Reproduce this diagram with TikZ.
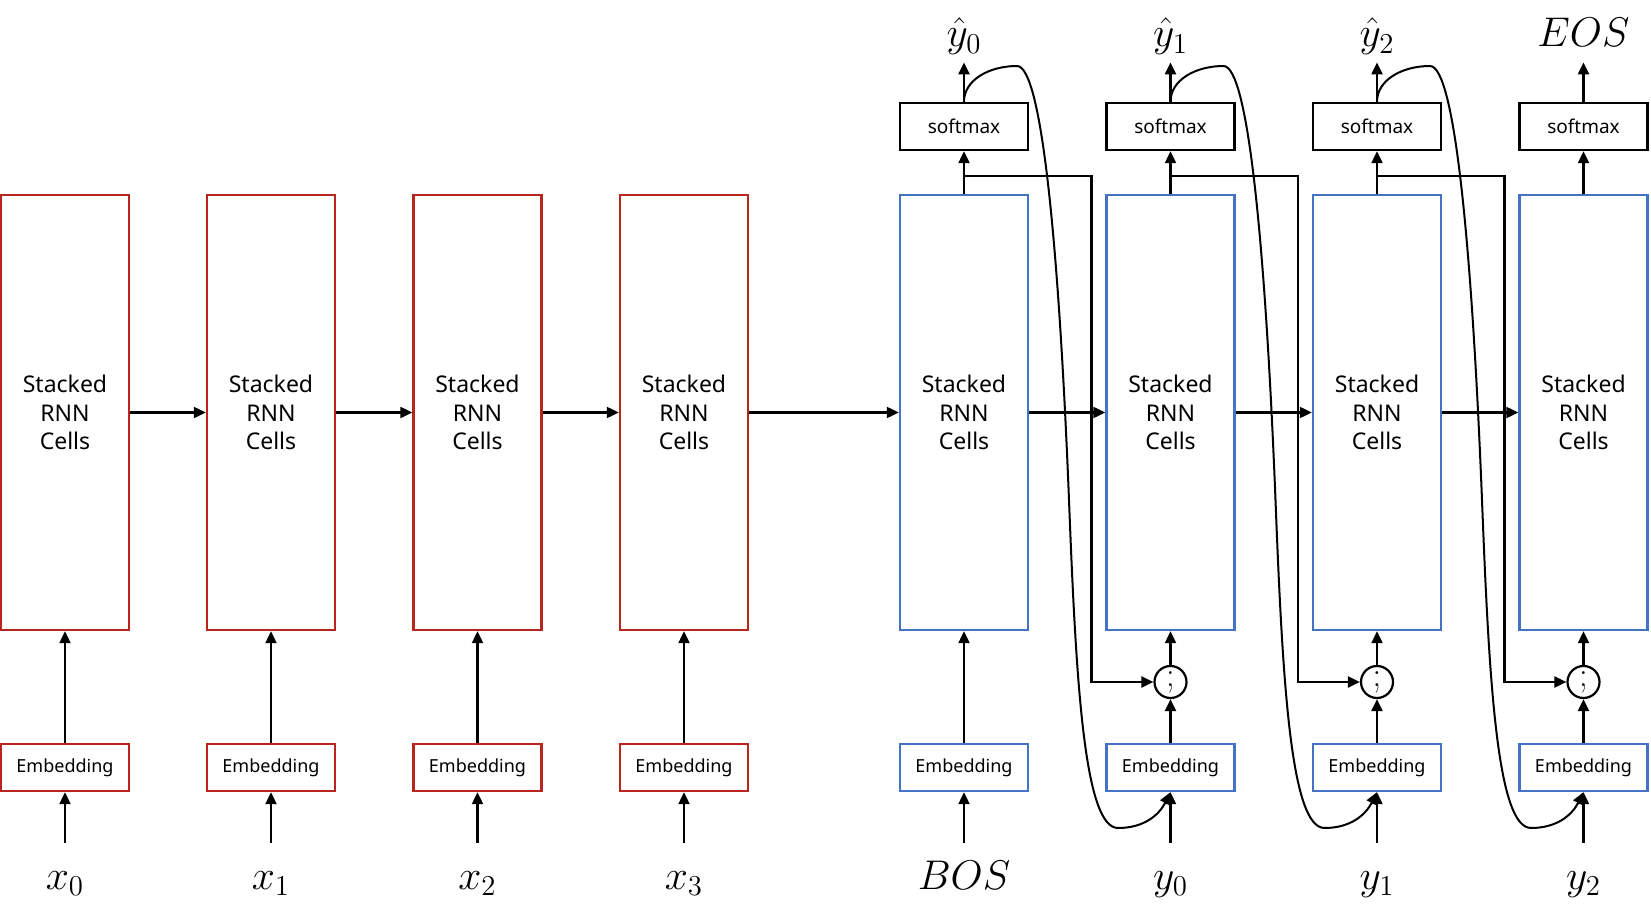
\documentclass[tikz,border=0pt]{standalone}
\usepackage[no-math]{fontspec}
\setmainfont{Noto Sans}
\usetikzlibrary{arrows.meta,calc}
\definecolor{encred}{RGB}{184,36,30}
\definecolor{decblue}{RGB}{68,114,196}
\tikzset{
  cell/.style={draw, line width=1.2pt, minimum width=64pt, minimum height=217.5pt, inner sep=0, align=center, font=\fontsize{11.5}{14.3}\selectfont},
  embed/.style={draw, line width=1.2pt, minimum width=64pt, minimum height=23.5pt, inner sep=0, font=\fontsize{9}{11}\selectfont},
  smax/.style={draw=black, line width=1.2pt, minimum width=64pt, minimum height=23.5pt, inner sep=0, font=\fontsize{9.5}{11}\selectfont},
  concat/.style={draw, circle, line width=1.1pt, minimum size=16pt, inner sep=0, font=\fontsize{18}{20}\selectfont},
  inlab/.style={anchor=base, inner sep=0, text height=23pt, font=\fontsize{20.5}{24}\selectfont},
  outlab/.style={anchor=base, inner sep=0, text depth=7.5pt, font=\fontsize{20.5}{24}\selectfont},
  arr/.style={line width=1.1pt, -{Triangle[length=6pt,width=5.5pt]}},
}
\begin{document}
\begin{tikzpicture}[x=0.5pt,y=-0.5pt]
\useasboundingbox (0,0) rectangle (1651,909);
% encoder
\node[cell,draw=encred] (er1) at (65,412.5) {Stacked\\RNN\\Cells};
\node[cell,draw=encred] (er2) at (271,412.5) {Stacked\\RNN\\Cells};
\node[cell,draw=encred] (er3) at (477.5,412.5) {Stacked\\RNN\\Cells};
\node[cell,draw=encred] (er4) at (684,412.5) {Stacked\\RNN\\Cells};
\node[embed,draw=encred] (ee1) at (65,767.5) {Embedding};
\node[embed,draw=encred] (ee2) at (271,767.5) {Embedding};
\node[embed,draw=encred] (ee3) at (477.5,767.5) {Embedding};
\node[embed,draw=encred] (ee4) at (684,767.5) {Embedding};
\node[inlab] (x0) at (65,889) {$x_0$};
\node[inlab] (x1) at (271,889) {$x_1$};
\node[inlab] (x2) at (477.5,889) {$x_2$};
\node[inlab] (x3) at (684,889) {$x_3$};
% decoder
\node[cell,draw=decblue] (dr1) at (964,412.5) {Stacked\\RNN\\Cells};
\node[cell,draw=decblue] (dr2) at (1170.5,412.5) {Stacked\\RNN\\Cells};
\node[cell,draw=decblue] (dr3) at (1377,412.5) {Stacked\\RNN\\Cells};
\node[cell,draw=decblue] (dr4) at (1583.5,412.5) {Stacked\\RNN\\Cells};
\node[embed,draw=decblue] (de1) at (964,767.5) {Embedding};
\node[embed,draw=decblue] (de2) at (1170.5,767.5) {Embedding};
\node[embed,draw=decblue] (de3) at (1377,767.5) {Embedding};
\node[embed,draw=decblue] (de4) at (1583.5,767.5) {Embedding};
\node[concat] (cc2) at (1170.5,682) {$;$};
\node[concat] (cc3) at (1377,682) {$;$};
\node[concat] (cc4) at (1583.5,682) {$;$};
\node[smax] (sm1) at (964,126.5) {softmax};
\node[smax] (sm2) at (1170.5,126.5) {softmax};
\node[smax] (sm3) at (1377,126.5) {softmax};
\node[smax] (sm4) at (1583.5,126.5) {softmax};
\node[inlab] (bos) at (964,889) {$BOS$};
\node[inlab] (y0) at (1170.5,889) {$y_0$};
\node[inlab] (y1) at (1377,889) {$y_1$};
\node[inlab] (y2) at (1583.5,889) {$y_2$};
\node[outlab] (yh0) at (964,47) {$\hat{y}_0$};
\node[outlab] (yh1) at (1170.5,47) {$\hat{y}_1$};
\node[outlab] (yh2) at (1377,47) {$\hat{y}_2$};
\node[outlab] (eos) at (1583.5,47) {$EOS$};
% inputs
\draw[arr] (x0) -- (ee1);
\draw[arr] (x1) -- (ee2);
\draw[arr] (x2) -- (ee3);
\draw[arr] (x3) -- (ee4);
\draw[arr] (ee1) -- (er1);
\draw[arr] (ee2) -- (er2);
\draw[arr] (ee3) -- (er3);
\draw[arr] (ee4) -- (er4);
\draw[arr] (bos) -- (de1);
\draw[arr] (y0) -- (de2);
\draw[arr] (y1) -- (de3);
\draw[arr] (y2) -- (de4);
\draw[arr] (de1) -- (dr1);
\draw[arr] (de2) -- (cc2);
\draw[arr] (de3) -- (cc3);
\draw[arr] (de4) -- (cc4);
\draw[arr] (cc2) -- (dr2);
\draw[arr] (cc3) -- (dr3);
\draw[arr] (cc4) -- (dr4);
% states
\draw[arr] (er1) -- (er2);
\draw[arr] (er2) -- (er3);
\draw[arr] (er3) -- (er4);
\draw[arr] (er4) -- (dr1);
\draw[arr] (dr1) -- (dr2);
\draw[arr] (dr2) -- (dr3);
\draw[arr] (dr3) -- (dr4);
% outputs
\draw[arr] (dr1) -- (sm1);
\draw[arr] (dr2) -- (sm2);
\draw[arr] (dr3) -- (sm3);
\draw[arr] (dr4) -- (sm4);
\draw[arr] (sm1) -- (yh0);
\draw[arr] (sm2) -- (yh1);
\draw[arr] (sm3) -- (yh2);
\draw[arr] (sm4) -- (eos);
% hidden output into the next concat
\draw[arr] ($(dr1.north)+(0,-18)$) -| ($(cc2)+(-79,0)$) -- (cc2);
\draw[arr] ($(dr2.north)+(0,-18)$) -| ($(cc3)+(-79,0)$) -- (cc3);
\draw[arr] ($(dr3.north)+(0,-18)$) -| ($(cc4)+(-79,0)$) -- (cc4);
% prediction fed back
\draw[arr,line width=1pt] (sm1.north) .. controls (964,80) and (989,66) .. (1017,66)
  .. controls (1042,66) and (1059,250) .. (1069,500)
  .. controls (1076,680) and (1084,828) .. (1118,828)
  .. controls (1144,828) and (1159,815) .. (de2.south);
\draw[arr,line width=1pt] (sm2.north) .. controls (1170.5,80) and (1195.5,66) .. (1223.5,66)
  .. controls (1248.5,66) and (1265.5,250) .. (1275.5,500)
  .. controls (1282.5,680) and (1290.5,828) .. (1324.5,828)
  .. controls (1350.5,828) and (1365.5,815) .. (de3.south);
\draw[arr,line width=1pt] (sm3.north) .. controls (1377,80) and (1402,66) .. (1430,66)
  .. controls (1455,66) and (1472,250) .. (1482,500)
  .. controls (1489,680) and (1497,828) .. (1531,828)
  .. controls (1557,828) and (1572,815) .. (de4.south);
\end{tikzpicture}
\end{document}
